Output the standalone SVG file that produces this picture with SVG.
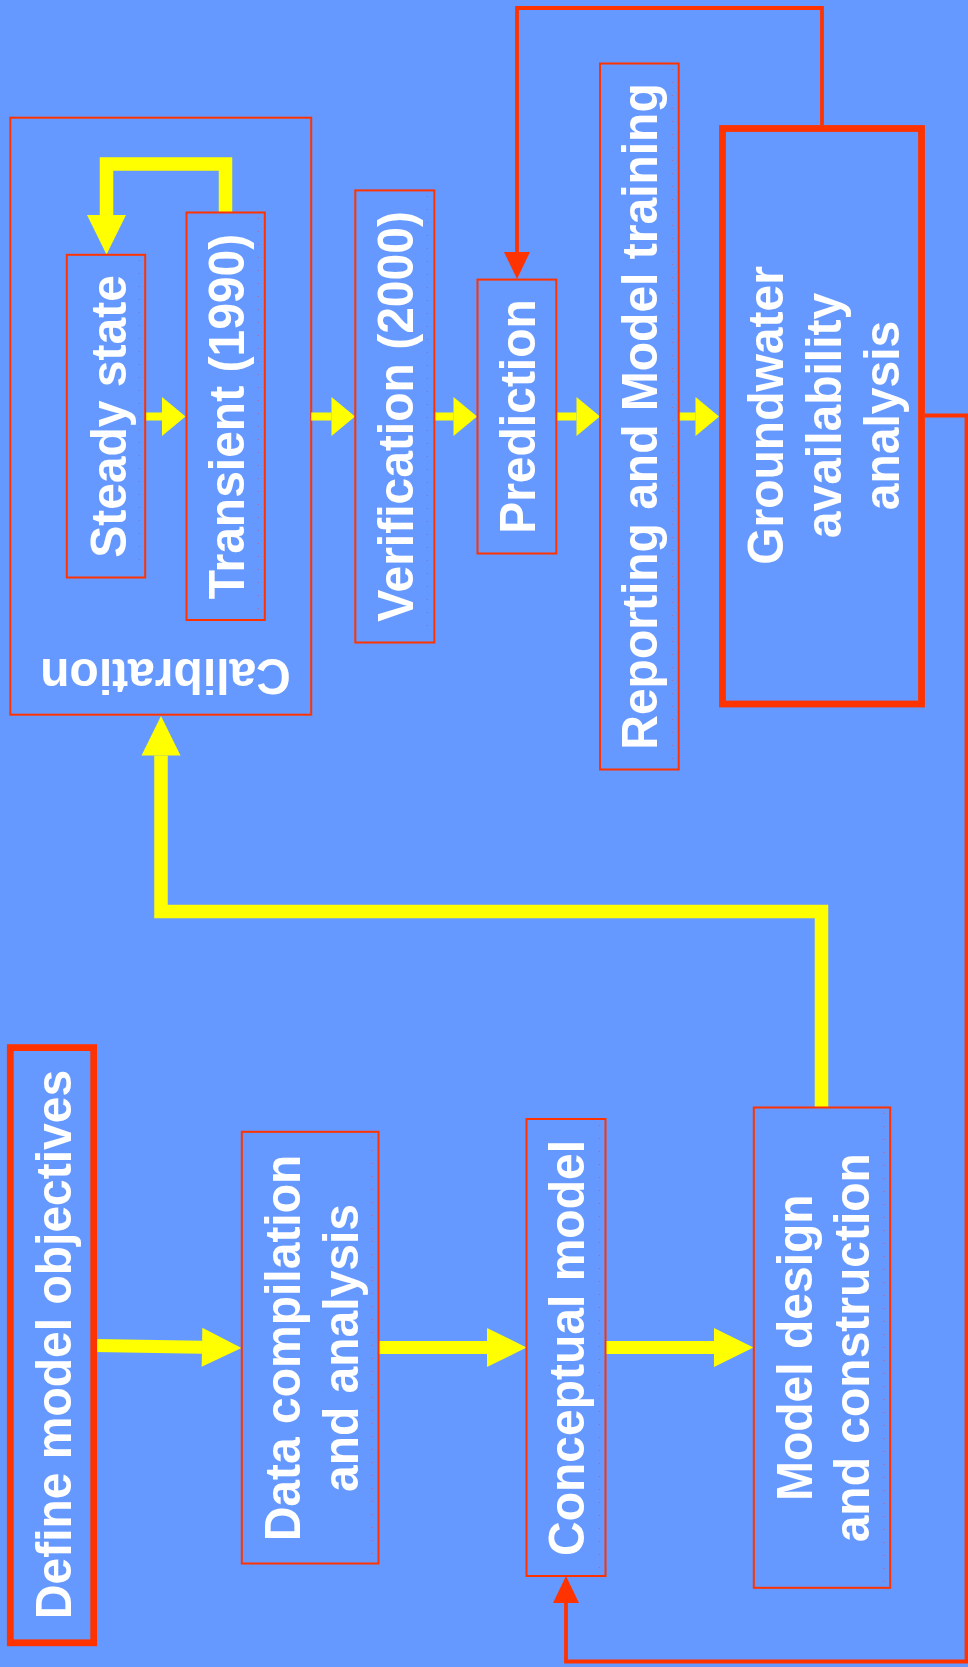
<svg xmlns="http://www.w3.org/2000/svg" width="968" height="1667" viewBox="0 0 968 1667">
<style>
.box{fill:#6699FF;stroke:#FF3300;stroke-width:2}
.thick{fill:#6699FF;stroke:#FF3300;stroke-width:6.8}
.dots{stroke:#FF3300;stroke-width:1;stroke-dasharray:1 12;opacity:0.5;fill:none}
.t{font-family:"Liberation Sans",Arial,Helvetica,sans-serif;font-weight:bold;font-size:48px;fill:#FFFFFF;text-anchor:middle}
.yl{fill:none;stroke:#FFFF00;stroke-linejoin:miter}
.rl{fill:none;stroke:#FF3300;stroke-width:3.8;stroke-linejoin:miter}
</style>
<defs>
<marker id="yBig" markerUnits="userSpaceOnUse" markerWidth="40" markerHeight="39" refX="0" refY="19.5" orient="auto" overflow="visible"><path d="M0,0 L39.5,19.5 L0,39 Z" fill="#FFFF00"/></marker>
<marker id="ySmall" markerUnits="userSpaceOnUse" markerWidth="24" markerHeight="39" refX="0" refY="19.5" orient="auto" overflow="visible"><path d="M0,0 L23.5,19.5 L0,39 Z" fill="#FFFF00"/></marker>
<marker id="rHead" markerUnits="userSpaceOnUse" markerWidth="27" markerHeight="26" refX="0" refY="13" orient="auto" overflow="visible"><path d="M0,0 L27,13 L0,26 Z" fill="#FF3300"/></marker>
</defs>
<rect x="0" y="0" width="968" height="1667" fill="#6699FF"/>

<g id="calibration">
<rect x="10.3" y="117.7" width="300.9" height="597" fill="none" stroke="#FF3300" stroke-width="2"/>
<text class="t" transform="translate(165.5,659) rotate(180) scale(1,1.05)">Calibration</text>
</g>

<g id="connectors">
<path class="yl" stroke-width="8" d="M145.2,416.5 H162" marker-end="url(#ySmall)"/>
<path class="yl" stroke-width="8" d="M311.2,416.5 H331.5" marker-end="url(#ySmall)"/>
<path class="yl" stroke-width="8" d="M434.3,416.5 H453.5" marker-end="url(#ySmall)"/>
<path class="yl" stroke-width="8" d="M556.3,416.5 H576.5" marker-end="url(#ySmall)"/>
<path class="yl" stroke-width="8" d="M678.7,416.5 H695.5" marker-end="url(#ySmall)"/>
<path class="yl" stroke-width="13.5" d="M225.5,213 V164 H106.5 V215" marker-end="url(#yBig)"/>
<path class="yl" stroke-width="13.5" d="M821.5,1107 V911.5 H161 V755.5" marker-end="url(#yBig)"/>
<path class="yl" stroke-width="13" d="M95,1345.5 L202,1347.3" marker-end="url(#yBig)"/>
<path class="yl" stroke-width="13" d="M378.5,1347.5 H487" marker-end="url(#yBig)"/>
<path class="yl" stroke-width="13" d="M605.5,1347.5 H714" marker-end="url(#yBig)"/>
<path class="rl" d="M822,125 V8 H517 V252" marker-end="url(#rHead)"/>
<path class="rl" d="M925,415.5 H966.5 V1661.5 H566 V1603" marker-end="url(#rHead)"/>
</g>

<g id="steady">
<rect class="box" x="66.8" y="254.8" width="78.4" height="322.7"/>
<line class="dots" x1="139.3" y1="260" x2="139.3" y2="572"/>
<text class="t" transform="translate(126,416.5) rotate(-90) scale(1,1.05)">Steady state</text>
</g>
<g id="transient">
<rect class="box" x="186.5" y="212.5" width="78.3" height="407.5"/>
<line class="dots" x1="258.3" y1="218" x2="258.3" y2="615"/>
<text class="t" transform="translate(244,416.5) rotate(-90) scale(1,1.05)">Transient (1990)</text>
</g>
<g id="verification">
<rect class="box" x="355.3" y="190.4" width="79" height="452.1"/>
<line class="dots" x1="427.3" y1="196" x2="427.3" y2="637"/>
<text class="t" transform="translate(413.3,416.5) rotate(-90) scale(1,1.05)">Verification (2000)</text>
</g>
<g id="prediction">
<rect class="box" x="477.5" y="279.6" width="78.8" height="273.9"/>
<text class="t" transform="translate(535,416.5) rotate(-90) scale(1,1.05)">Prediction</text>
</g>
<g id="reporting">
<rect class="box" x="600" y="63.5" width="78.7" height="706"/>
<line class="dots" x1="672.3" y1="69" x2="672.3" y2="764"/>
<text class="t" transform="translate(656.7,416.5) rotate(-90) scale(1,1.05)">Reporting and Model training</text>
</g>
<g id="groundwater">
<rect class="thick" x="722.5" y="128.5" width="199" height="575.5"/>
<text class="t" transform="translate(782.5,415.5) rotate(-90) scale(1,1.05)">Groundwater</text>
<text class="t" transform="translate(840.5,415.5) rotate(-90) scale(1,1.05)">availability</text>
<text class="t" transform="translate(898.8,415.5) rotate(-90) scale(1,1.05)">analysis</text>
</g>
<g id="define">
<rect class="thick" x="10.3" y="1047.6" width="83.4" height="595.2"/>
<text class="t" transform="translate(70.7,1344.5) rotate(-90) scale(1,1.05)">Define model objectives</text>
</g>
<g id="data">
<rect class="box" x="241.8" y="1131.8" width="136.7" height="431.7"/>
<line class="dots" x1="372.3" y1="1137" x2="372.3" y2="1558"/>
<text class="t" transform="translate(300,1348) rotate(-90) scale(1,1.05)">Data compilation</text>
<text class="t" transform="translate(358,1348) rotate(-90) scale(1,1.05)">and analysis</text>
</g>
<g id="conceptual">
<rect class="box" x="526.5" y="1119" width="79" height="457"/>
<line class="dots" x1="599.3" y1="1125" x2="599.3" y2="1570"/>
<text class="t" transform="translate(584,1348) rotate(-90) scale(1,1.05)">Conceptual model</text>
</g>
<g id="design">
<rect class="box" x="753.8" y="1107.5" width="136.4" height="480.3"/>
<line class="dots" x1="884.3" y1="1113" x2="884.3" y2="1582"/>
<text class="t" transform="translate(811.7,1347.7) rotate(-90) scale(1,1.05)">Model design</text>
<text class="t" transform="translate(869,1347.7) rotate(-90) scale(1,1.05)">and construction</text>
</g>
</svg>
